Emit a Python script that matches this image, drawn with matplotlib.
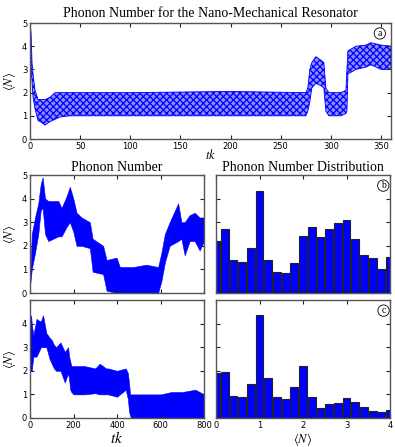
import matplotlib
matplotlib.use("Agg")
import matplotlib.pyplot as plt
import numpy as np

# ---- panel (a): envelope of the fast oscillation
a_t = [0, 1, 2, 3, 5, 8, 12, 15, 20, 25, 30, 40, 100, 200, 275, 277, 279, 281, 285,
       290, 293, 295, 298, 310, 315, 316, 317, 325, 335, 340, 350, 360]
a_lo = [4.6, 3.0, 2.5, 1.8, 1.3, 0.8, 0.7, 0.6, 0.75, 0.85, 0.95, 1.0, 1.0, 1.0, 1.0, 1.2,
        1.6, 2.2, 2.4, 2.3, 2.2, 1.2, 1.0, 1.0, 1.1, 1.2, 2.8, 3.0, 3.1, 3.2, 3.0, 3.0]
a_hi = [5.0, 4.6, 3.3, 2.8, 2.1, 1.7, 1.7, 1.7, 1.8, 2.0, 2.0, 2.0, 2.0, 2.05, 2.0, 2.2,
        3.0, 3.3, 3.55, 3.4, 3.3, 2.2, 2.0, 2.0, 2.1, 3.0, 3.8, 4.0, 4.05, 4.15, 4.05, 4.0]

# ---- panel (b): slow trajectory envelope
b_t = [0, 8, 23, 38, 49, 58, 69, 84, 130, 145, 168, 183, 199, 214, 237, 275, 288, 336,
       352, 398, 413, 474, 535, 589, 604, 620, 642, 681, 696, 711, 734, 757, 780, 800]
b_lo = [0.3, 1.0, 1.7, 2.5, 3.5, 3.6, 2.5, 2.2, 2.4, 2.4, 2.8, 3.0, 2.6, 2.0, 2.0, 1.9,
        0.9, 0.8, 0.1, 0.0, 0.0, 0.0, 0.0, 0.0, 0.5, 1.3, 2.0, 2.2, 2.3, 1.6, 2.2, 2.2,
        1.8, 2.2]
b_hi = [0.4, 2.5, 3.2, 3.8, 4.6, 4.9, 4.0, 3.9, 3.9, 3.6, 4.1, 4.5, 4.0, 3.4, 3.2, 3.0,
        2.3, 2.0, 1.4, 1.5, 1.1, 1.1, 1.2, 1.1, 1.7, 2.5, 3.0, 3.8, 3.0, 3.0, 3.3, 3.4,
        3.2, 3.2]

# ---- panel (c)
c_t = [0, 5, 8, 15, 30, 45, 50, 60, 75, 90, 100, 110, 120, 140, 160, 175, 180, 185,
       190, 200, 250, 300, 320, 350, 360, 400, 440, 450, 455, 460, 465, 500, 600, 650,
       700, 760, 800]
c_lo = [2.0, 2.0, 2.0, 2.6, 2.6, 2.9, 3.0, 3.0, 3.0, 2.5, 2.3, 2.1, 2.0, 2.0, 1.5, 1.9,
        1.6, 1.2, 1.1, 1.0, 1.0, 1.05, 1.0, 1.0, 1.0, 0.9, 1.2, 0.8, 0.3, 0.1, 0.0, 0.0,
        0.0, 0.0, 0.0, 0.0, 0.0]
c_hi = [4.0, 4.35, 4.0, 3.5, 4.2, 4.1, 4.1, 4.35, 3.6, 3.4, 3.3, 3.1, 3.0, 3.2, 2.8, 3.0,
        2.6, 2.4, 2.2, 2.2, 2.2, 2.1, 2.3, 2.1, 2.1, 2.0, 2.1, 1.9, 1.5, 1.0, 1.0, 1.0,
        1.0, 1.1, 1.1, 1.2, 1.0]

# ---- histograms (relative heights, bins centred on 0, 0.2, ..., 4)
bins = np.round(np.arange(0, 4.01, 0.2), 1)
hist_b = [0.437, 0.541, 0.282, 0.262, 0.380, 0.868, 0.282, 0.177, 0.172, 0.251, 0.487,
          0.558, 0.473, 0.544, 0.597, 0.617, 0.456, 0.321, 0.299, 0.203, 0.307]
hist_c = [0.380, 0.389, 0.186, 0.175, 0.290, 0.873, 0.335, 0.180, 0.163, 0.259, 0.442,
          0.180, 0.085, 0.118, 0.127, 0.169, 0.135, 0.090, 0.062, 0.054, 0.070]

serif = ["Liberation Serif", "DejaVu Serif"]
blue = "#0000ff"
spine_col = "#555555"
plt.rcParams["mathtext.fontset"] = "stix"
plt.rcParams["hatch.linewidth"] = 0.9


def style(ax):
  for s in ax.spines.values():
    s.set_color(spine_col)
    s.set_linewidth(1.0)
  ax.tick_params(direction="in", top=True, right=True, length=3, width=0.8,
                 labelsize=6, color="#222222", pad=2)


def tag(ax, letter):
  ax.text(0.975, 0.91, letter, transform=ax.transAxes, ha="right", va="center",
          fontsize=7, family=serif,
          bbox=dict(boxstyle="circle,pad=0.12", fc="white", ec="black", lw=0.6))


fig = plt.figure(figsize=(3.95, 4.47), dpi=100)

# top panel
ax = fig.add_axes([0.076, 0.689, 0.914, 0.2595])
ax.fill_between(a_t, a_lo, a_hi, facecolor="#8c8cff", edgecolor=blue, hatch="xxxxx", lw=0.6)
ax.set_xlim(0, 360)
ax.set_ylim(0, 5)
ax.set_xticks(range(0, 351, 50))
ax.set_yticks(range(0, 6))
style(ax)
ax.set_title("Phonon Number for the Nano-Mechanical Resonator", family=serif,
             fontsize=10, pad=4)
ax.set_xlabel(r"$tk$", fontsize=9, labelpad=-2)
ax.set_ylabel(r"$\langle N\rangle$", fontsize=9, labelpad=3)
tag(ax, "a")

# phonon number, trajectory 1
ax = fig.add_axes([0.076, 0.3445, 0.4405, 0.264])
ax.fill_between(b_t, b_lo, b_hi, color=blue, lw=0.4)
ax.set_xlim(0, 800)
ax.set_ylim(0, 5)
ax.set_xticks(range(0, 801, 200))
ax.set_xticklabels([])
ax.set_yticks(range(0, 6))
style(ax)
ax.set_title("Phonon Number", family=serif, fontsize=10, pad=3)
ax.set_ylabel(r"$\langle N\rangle$", fontsize=9, labelpad=3)

# phonon number, trajectory 2
ax = fig.add_axes([0.076, 0.0649, 0.4405, 0.264])
ax.fill_between(c_t, c_lo, c_hi, color=blue, lw=0.4)
ax.set_xlim(0, 800)
ax.set_ylim(0, 5)
ax.set_xticks(range(0, 801, 200))
ax.set_yticks(range(0, 6))
ax.set_yticklabels(["0", "1", "2", "3", "4", ""])
style(ax)
ax.set_xlabel(r"$tk$", fontsize=11, labelpad=0)
ax.set_ylabel(r"$\langle N\rangle$", fontsize=9, labelpad=3)

# distributions
ax = fig.add_axes([0.547, 0.3445, 0.4405, 0.264])
ax.bar(bins, hist_b, width=0.18, color=blue, edgecolor="#222222", lw=0.8)
ax.set_xlim(0, 4)
ax.set_ylim(0, 1)
ax.set_xticks(range(0, 5))
ax.set_xticklabels([])
ax.set_yticks([0.2, 0.4, 0.6, 0.8])
ax.set_yticklabels([])
style(ax)
ax.set_title("Phonon Number Distribution", family=serif, fontsize=10, pad=3)
tag(ax, "b")

ax = fig.add_axes([0.547, 0.0649, 0.4405, 0.264])
ax.bar(bins, hist_c, width=0.18, color=blue, edgecolor="#222222", lw=0.8)
ax.set_xlim(0, 4)
ax.set_ylim(0, 1)
ax.set_xticks(range(0, 5))
ax.set_yticks([0.2, 0.4, 0.6, 0.8])
ax.set_yticklabels([])
style(ax)
ax.set_xlabel(r"$\langle N\rangle$", fontsize=9, labelpad=1)
tag(ax, "c")

fig.savefig("out.png", dpi=100)
